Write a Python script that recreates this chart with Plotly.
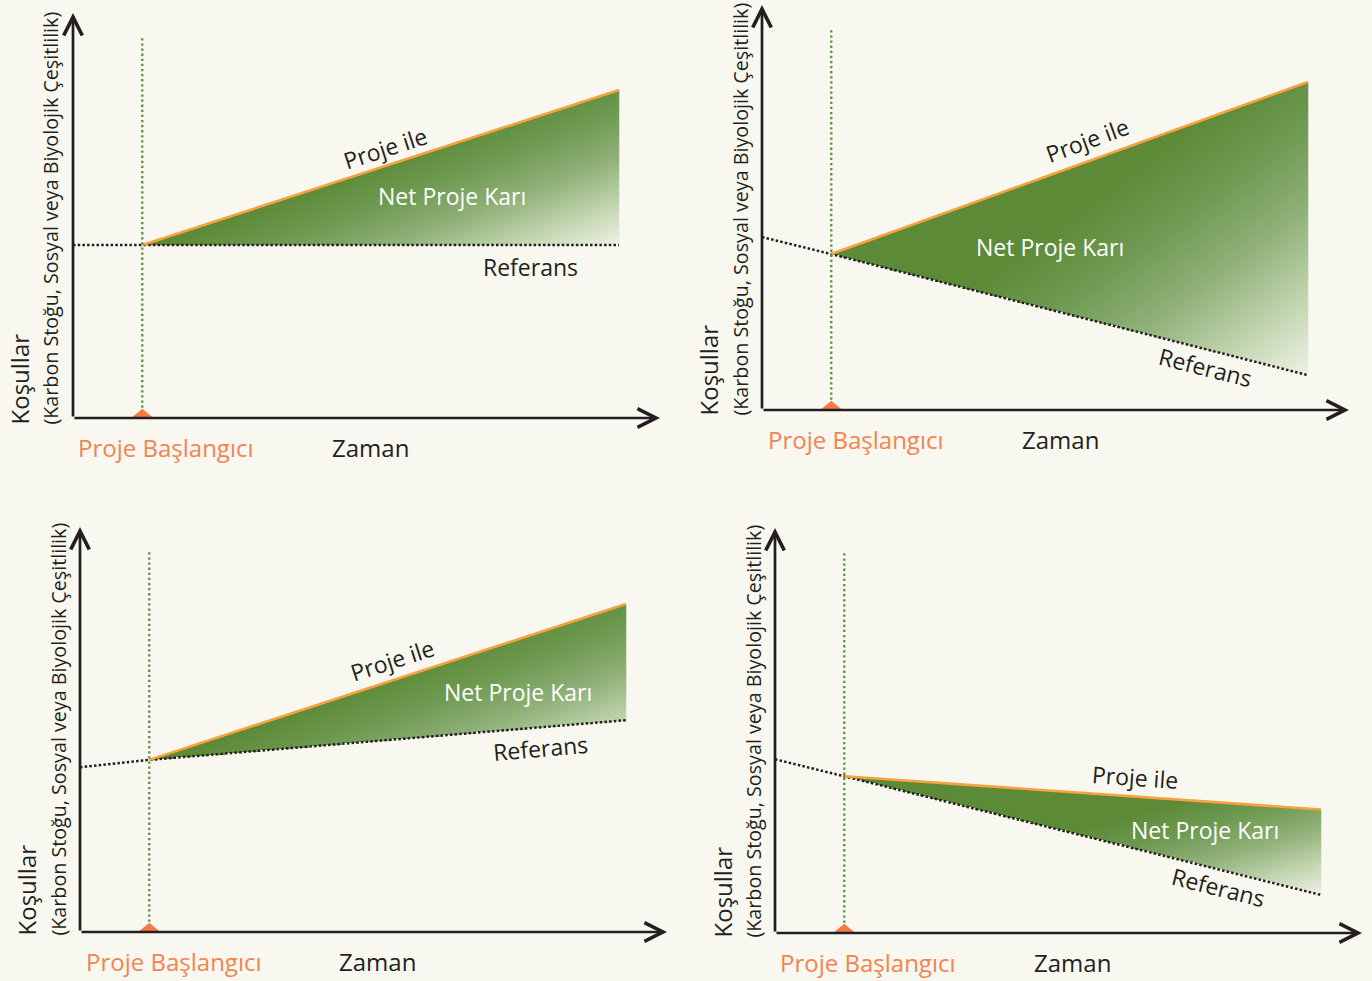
import numpy as np
import plotly.graph_objects as go

# ---------------- data ----------------
time = [0, 11.8, 93]                 # axis start, project start, end of horizon
project_start = 11.8
time_end = 93
project_times = [11.8, 93]

ref_p1 = [42.7, 42.7, 42.7]
proj_p1 = [42.7, 81.0]
ref_p2 = [42.7, 38.5, 8.6]
proj_p2 = [38.5, 81.0]
ref_p3 = [40.7, 42.5, 52.3]
proj_p3 = [42.5, 81.0]
ref_p4 = [42.9, 38.7, 9.4]
proj_p4 = [38.7, 30.5]

lbl_with = "Proje ile"
lbl_net = "Net Proje Karı"
lbl_ref = "Referans"
lbl_start = "Proje Başlangıcı"
lbl_time = "Zaman"
lbl_y1 = "Koşullar"
lbl_y2 = "(Karbon Stoğu, Sosyal veya Biyolojik Çeşitlilik)"

# ---------------- style / layout ----------------
FW, FH = 1372, 981
BG = "#f9f8f0"
INK = "#231f20"
ORANGE_LINE = "#f7a23e"
ORANGE_TXT = "#f4834f"
ORANGE_TRI = "#f47b47"
GREEN_DOT = "#5a8f3c"
FONT = "Open Sans"
W_PX, H_PX = 587, 405
SX, SY = W_PX / 100.0, H_PX / 100.0

def PX(x):
    return x / FW

def PY(y):
    return 1 - y / FH

panels = [
    dict(ox=73, oy=418, ref=ref_p1, proj=proj_p1,
         with_xy=(385, 148), with_ang=-18, net_xy=(452, 196),
         ref_xy=(530, 267), ref_ang=0, start_xy=(76, 447), time_xy=(370, 447),
         y1x=19, y2x=50, ylb=427),
    dict(ox=762, oy=410, ref=ref_p2, proj=proj_p2,
         with_xy=(1087, 140), with_ang=-20, net_xy=(1050, 247),
         ref_xy=(1205, 367), ref_ang=14, start_xy=(766, 440), time_xy=(1060, 440),
         y1x=708, y2x=740, ylb=418),
    dict(ox=80, oy=932, ref=ref_p3, proj=proj_p3,
         with_xy=(392, 660), with_ang=-18, net_xy=(518, 692),
         ref_xy=(540, 748), ref_ang=-5, start_xy=(84, 961), time_xy=(378, 961),
         y1x=26, y2x=58, ylb=938),
    dict(ox=775, oy=933, ref=ref_p4, proj=proj_p4,
         with_xy=(1135, 777), with_ang=4, net_xy=(1205, 830),
         ref_xy=(1218, 887), ref_ang=14, start_xy=(778, 962), time_xy=(1072, 962),
         y1x=722, y2x=753, ylb=940),
]

colorscale = [[0.0, "#5c8a36"], [0.25, "#6e9a52"], [0.5, "#90b078"],
              [0.75, "#bfd3ad"], [1.0, "#eff2e6"]]

fig = go.Figure()
annotations = []
layout_axes = {}

def text_ann(xy, text, font, angle=0, xanchor="center"):
    return dict(x=PX(xy[0]), y=PY(xy[1]), xref="paper", yref="paper", text=text,
                showarrow=False, textangle=angle, xanchor=xanchor, yanchor="middle",
                font=font)

for i, p in enumerate(panels):
    k = "" if i == 0 else str(i + 1)
    xa, ya = "x" + k, "y" + k
    ox, oy = p["ox"], p["oy"]
    layout_axes["xaxis" + k] = dict(domain=[PX(ox), PX(ox + W_PX)], range=[0, 100],
                                    visible=False, fixedrange=True, anchor=ya)
    layout_axes["yaxis" + k] = dict(domain=[PY(oy), PY(oy - H_PX)], range=[0, 100],
                                    visible=False, fixedrange=True, anchor=xa)

    # ---- gradient fill between the two lines (heatmap masked to the region)
    nx = 320
    x_edges = np.linspace(project_start, time_end, nx + 1)
    xc = 0.5 * (x_edges[:-1] + x_edges[1:])
    top = np.interp(xc, project_times, p["proj"])
    bot = np.interp(xc, time, p["ref"])
    lo_v = min(top.min(), bot.min())
    hi_v = max(top.max(), bot.max())
    ny = int(np.ceil((hi_v - lo_v) * SY / 1.4))
    y_edges = np.linspace(lo_v, hi_v, ny + 1)
    yc = 0.5 * (y_edges[:-1] + y_edges[1:])
    XX, YY = np.meshgrid(xc, yc)
    T = np.interp(XX, project_times, p["proj"])
    B = np.interp(XX, time, p["ref"])
    inside = (YY >= np.minimum(T, B)) & (YY <= np.maximum(T, B))
    u = (XX - project_start) / (time_end - project_start)
    v = (hi_v - YY) / (hi_v - lo_v)
    s = np.clip((1.2 * u + v - 1.05) / 1.15, 0, 1)
    Z = np.where(inside, s, np.nan)
    fig.add_trace(go.Heatmap(x=x_edges, y=y_edges, z=Z, colorscale=colorscale,
                             zmin=0, zmax=1, showscale=False, zsmooth=False,
                             hoverinfo="skip", xaxis=xa, yaxis=ya))

    # ---- reference (dotted black)
    fig.add_trace(go.Scatter(x=time, y=p["ref"], mode="lines",
                             line=dict(color=INK, width=2.5, dash="2.5px,2.2px"),
                             hoverinfo="skip", showlegend=False, xaxis=xa, yaxis=ya))
    # ---- with project (orange)
    fig.add_trace(go.Scatter(x=project_times, y=p["proj"], mode="lines",
                             line=dict(color=ORANGE_LINE, width=2.6),
                             hoverinfo="skip", showlegend=False, xaxis=xa, yaxis=ya))
    # ---- project start marker line (green dotted)
    fig.add_trace(go.Scatter(x=[project_start, project_start], y=[0, 94], mode="lines",
                             line=dict(color=GREEN_DOT, width=2.3, dash="2.3px,2.8px"),
                             hoverinfo="skip", showlegend=False, xaxis=xa, yaxis=ya))
    # ---- orange start triangle
    fig.add_trace(go.Scatter(x=[project_start - 1.9, project_start, project_start + 1.9],
                             y=[0, 2.3, 0], mode="lines", fill="toself",
                             fillcolor=ORANGE_TRI, line=dict(width=0, color=ORANGE_TRI),
                             hoverinfo="skip", showlegend=False, cliponaxis=False,
                             xaxis=xa, yaxis=ya))

    # ---- axis arrows
    for (hx, hy) in [(100, 0), (0, 100)]:
        annotations.append(dict(x=hx, y=hy, ax=0, ay=0, xref=xa, yref=ya,
                                axref=xa, ayref=ya, text="", showarrow=True,
                                arrowhead=5, arrowsize=1.35, arrowwidth=2.7,
                                arrowcolor=INK, standoff=0))

    # ---- texts
    f_main = dict(family=FONT, size=23, color=INK)
    annotations.append(text_ann(p["with_xy"], lbl_with, f_main, p["with_ang"]))
    annotations.append(text_ann(p["net_xy"], lbl_net,
                                dict(family=FONT, size=23, color="white")))
    annotations.append(text_ann(p["ref_xy"], lbl_ref, f_main, p["ref_ang"]))
    annotations.append(text_ann(p["start_xy"], lbl_start,
                                dict(family=FONT, size=24, color=ORANGE_TXT),
                                xanchor="left"))
    annotations.append(text_ann(p["time_xy"], lbl_time,
                                dict(family=FONT, size=24, color=INK)))
    annotations.append(dict(x=PX(p["y1x"]), y=PY(p["ylb"]), xref="paper", yref="paper",
                            text=lbl_y1, showarrow=False, textangle=-90,
                            xanchor="center", yanchor="bottom",
                            font=dict(family=FONT, size=24, color=INK)))
    annotations.append(dict(x=PX(p["y2x"]), y=PY(p["ylb"]), xref="paper", yref="paper",
                            text=lbl_y2, showarrow=False, textangle=-90,
                            xanchor="center", yanchor="bottom",
                            font=dict(family=FONT, size=19.7, color=INK)))

fig.update_layout(width=FW, height=FH, autosize=False,
                  margin=dict(l=0, r=0, t=0, b=0, pad=0),
                  paper_bgcolor=BG, plot_bgcolor=BG, showlegend=False,
                  hovermode=False, annotations=annotations, **layout_axes)

fig.write_html("out.html", config={"displayModeBar": False},
               post_script="document.body.style.margin='0';document.body.style.overflow='hidden';")
